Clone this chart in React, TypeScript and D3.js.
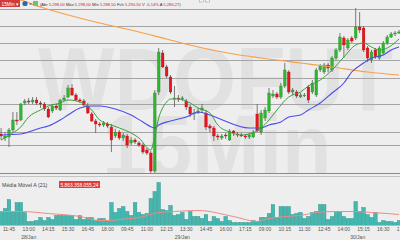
import React from "react";
import * as d3 from "d3";

// ---- Candles (15 min), index 0 = 28/Jan 11:15 ----
const candleOpen = [5238,5236,5236.5,5240,5245,5245,5253.5,5254.5,5254,5255,5253.5,5253,5250.5,5249.5,5252,5250,5255,5256.5,5261,5257.5,5255,5254.5,5252,5248,5244.5,5243,5242.5,5243,5241.5,5237,5239,5236,5237,5233.5,5235,5233.5,5232.5,5230,5228.5,5219.5,5259,5278.5,5271.5,5266.5,5255.5,5256,5255.5,5254.5,5251.5,5248,5248.5,5250,5248.5,5242,5241,5237,5236,5237.5,5235,5239.5,5238,5237.5,5237,5236.5,5236.5,5248,5239,5246,5249.5,5257,5258,5256.5,5262,5269,5259,5259,5256.5,5257,5261.5,5259,5257.5,5270,5269,5272.5,5270,5276,5280,5286,5281,5286,5286,5291.5,5291,5281,5275,5280,5276,5278.5,5283.5,5286.5,5288,5288.5];
const candleHigh = [5241,5239,5241,5249,5249,5253.5,5255.5,5256,5256.5,5256.5,5254.5,5254,5251.5,5253,5253,5255.5,5257.5,5262.5,5263,5258.5,5256,5255.5,5253.5,5249,5245.5,5244,5244.5,5244,5243,5240.5,5240,5238.5,5238,5236.5,5236,5234.5,5233.5,5231,5229.5,5260,5281,5280,5272.5,5267.5,5262,5257.5,5257,5255.5,5252.5,5250.5,5251,5253,5250,5243,5242,5238,5238,5238.5,5240.5,5240,5239,5238.5,5238,5238.5,5240,5253,5250,5251.5,5261,5260,5259,5263.5,5273.5,5270,5261,5260,5258.5,5258.5,5262.5,5265,5271,5273,5273.5,5273.5,5277,5281,5288.5,5287,5286,5287,5301,5299,5292,5282,5280,5281,5282,5284.5,5287.5,5289,5289.5,5290];
const candleLow = [5235,5234.5,5231.5,5239,5242.5,5244.5,5252.5,5253,5253,5252.5,5251,5249.5,5246,5248.5,5250,5249.5,5254.5,5256,5257,5254.5,5253.5,5251.5,5248,5244,5238.5,5241.5,5241.5,5241,5229,5236,5235,5234.5,5231,5232.5,5233,5231.5,5228,5227.5,5218.5,5217.5,5257.5,5271,5266,5258,5251.5,5254,5254.5,5250,5246.5,5245,5248,5248.5,5240,5239,5234.5,5235,5235,5235.5,5234.5,5237,5236.5,5236.5,5235.5,5235.5,5236,5239,5237.5,5244.5,5248.5,5256,5255.5,5255.5,5261,5258,5257.5,5256,5256,5256.5,5253.5,5258,5256.5,5269,5268,5269,5269,5275,5279,5276,5280,5283.5,5285,5288.5,5279,5274,5273.5,5275.5,5275,5277.5,5282.5,5286,5287,5288];
const candleClose = [5237,5237,5240,5245,5244.5,5253,5254.5,5254,5255,5253.5,5253,5250.5,5246.5,5252,5251,5255,5256,5261,5257.5,5255,5254.5,5252.5,5248.5,5244.5,5243,5242.5,5243.5,5242,5235,5239,5236,5237.5,5232.5,5235,5234,5232.5,5229,5228.5,5219.5,5258.5,5279,5271.5,5267,5259,5256,5255.5,5256,5251.5,5248,5248.5,5249.5,5251,5241.5,5241,5237,5236.5,5237,5237,5239.5,5238.5,5237.5,5237,5236.5,5237.5,5239,5239.5,5248.5,5250,5258.5,5258,5256.5,5262,5270,5259,5260,5257,5257.5,5257.5,5255,5263.5,5270,5272,5272.5,5271,5276,5280,5286.5,5282.5,5285,5284.5,5291.5,5290,5280,5276,5279,5276.5,5281,5283.5,5286.5,5288,5288.5,5289];
// financial volume, billions of R$
const volumeBi = [7,8.5,13,7,11.5,11.5,6.5,2,2,2.5,4,2.5,4,3,5,5,5,5,5,3,5,3,4,4,2.5,3.5,3.5,2.5,11.5,6.5,8.5,9.5,7,5,11.5,6.5,5.5,6,13.5,17,21.5,8,7.5,10,5,5.5,6.5,3,7,4.5,4.5,3.5,5.5,2,4.5,3.5,2,4.5,2.5,1.5,1.5,1.5,1.5,1.5,2.5,2,4,4,6,10.5,4,9.5,9.5,9.5,5.5,6,6.5,3.5,4.5,6.5,7,10.5,10.5,3,4.5,6.5,7,4.5,3.5,3.5,12,7,9,5.5,4,6.5,1.5,2.5,2,2,1.5,2.5];

// ---- Moving averages: [candle index, value] ----
const greenMA: [number, number][] = [[0,5235],[3,5238.5],[5,5241.5],[7,5246.5],[10,5250],[12,5252],[15,5253.5],[17,5255],[20,5254],[23,5250],[25,5245],[28,5242.5],[30,5241],[33,5238.5],[35,5236],[38,5230],[39,5237],[40,5246],[41,5251],[42,5254],[43,5255.5],[45,5255.5],[48,5253.5],[50,5251],[53,5248.5],[55,5242.5],[58,5239],[61,5237.5],[63,5238],[66,5241],[68,5245],[70,5250],[73,5256.5],[76,5259],[78,5262],[81,5265],[84,5270],[87,5276.5],[90,5282.5],[92,5283.5],[94,5281.5],[96,5280],[98,5281],[101,5285.5]];
const blueMA: [number, number][] = [[0,5237.5],[5,5238],[10,5241],[12,5242],[15,5245],[17,5247.5],[20,5251],[23,5252],[25,5252],[29,5250.5],[33,5247.5],[36,5244],[39,5241],[40,5242.5],[43,5244.5],[47,5246.5],[50,5249],[53,5247.5],[55,5246],[63,5241],[66,5241],[68,5242.5],[71,5244],[73,5246.5],[76,5247.5],[78,5250],[81,5253.5],[84,5258.5],[87,5263.5],[89,5269],[92,5273.5],[94,5276],[97,5277.5],[99,5280],[101,5281.5]];
const orangeMA: [number, number][] = [[0,5307.5],[5,5305],[10,5301.5],[17,5297.5],[25,5293.5],[34,5289.5],[42,5285.5],[50,5281.5],[59,5278],[66,5276],[76,5273.5],[84,5271.5],[93,5269],[101,5267.5]];
const volumeMA: [number, number][] = [[0,7],[5,7],[12,6],[20,4.5],[25,2.5],[28,2.5],[30,3],[35,4],[40,6.5],[44,7],[50,7.5],[59,4.5],[65,2],[67,3],[72,4.5],[76,5],[80,6.5],[85,7],[89,7],[94,6.5],[98,6],[101,5.5]];

const priceLines = [5300.5, 5292, 5283.5, 5275, 5266, 5253, 5239, 5232.5];

const tickLabels = ["11:45","13:00","14:15","15:30","16:45","18:00","09:45","11:00","12:15","13:30","14:45","16:00","17:15","09:00","10:15","11:30","12:45","14:00","15:15","16:30","17:45"];
const tickIndex = [2,7,12,17,22,27,32,37,42,47,52,57,62,67,72,77,82,87,92,97,102];
const dateLabels = ["28/Jan","29/Jan","30/Jan"];
const dateIndex = [7, 46, 90.5];

const headerParts = [
  ["(Abr ", "5.298,00"], [" Máx ", "5.298,00"], [" Mín ", "5.288,50"], [" Fch ", "5.290,50"], [" V ", "-0,14%"], [" A ", "5.286,27"], [")", ""],
];

const FONT = "'Liberation Sans', Arial, sans-serif";

export default function App() {
  const x = d3.scaleLinear().domain([0, 100]).range([1.1, 395.1]);
  const y = d3.scaleLinear().domain([5305, 5217.5]).range([0, 175]);
  const yv = d3.scaleLinear().domain([0, 22]).range([225.5, 181.5]);
  const priceLine = d3.line<[number, number]>().x(d => x(d[0])).y(d => y(d[1])).curve(d3.curveMonotoneX);
  const volLine = d3.line<[number, number]>().x(d => x(d[0])).y(d => yv(d[1])).curve(d3.curveMonotoneX);
  const idx = d3.range(candleOpen.length);

  return (
    <svg width={400} height={240} style={{ position: "absolute", left: 0, top: 0, display: "block" }} fontFamily={FONT}>
      <defs>
        <clipPath id="pricePane"><rect x={0} y={0} width={400} height={173} /></clipPath>
        <clipPath id="volPane"><rect x={0} y={176} width={400} height={50} /></clipPath>
      </defs>
      <rect x={0} y={0} width={400} height={240} fill="#eeeeee" />
      {/* watermark */}
      <g fill="#e1e1e1" fontWeight="bold" clipPath="url(#pricePane)">
        <g transform="translate(38,110) scale(1,1.1)">
          <text x={0} y={0} fontSize={81}>WDOFUT</text>
        </g>
        <g transform="translate(102,177) scale(1,1.1)">
          <text x={0} y={0} fontSize={81}>15Min</text>
        </g>
      </g>
      {/* price grid */}
      {priceLines.map((p, i) => (
        <line key={i} x1={0} x2={400} y1={Math.round(y(p)) + 0.5} y2={Math.round(y(p)) + 0.5} stroke="#a4a4a4" strokeWidth={1} />
      ))}
      <line x1={0} x2={400} y1={173.5} y2={173.5} stroke="#8a8a8a" strokeWidth={1} />
      <line x1={0} x2={400} y1={176.5} y2={176.5} stroke="#c4c4c4" strokeWidth={1} />
      {/* candles */}
      <g clipPath="url(#pricePane)">
        {idx.map(i => {
          const o = candleOpen[i], c = candleClose[i];
          const up = c >= o;
          const top = y(Math.max(o, c));
          const h = Math.max(1, Math.abs(y(o) - y(c)));
          return (
            <g key={i}>
              <line x1={x(i)} x2={x(i)} y1={y(candleHigh[i])} y2={y(candleLow[i])} stroke="#5a5a5a" strokeWidth={0.8} />
              <rect x={x(i) - 1.35} y={top} width={2.7} height={h} fill={up ? "#2fb52f" : "#e3161d"} stroke={up ? "#23862a" : "#b01015"} strokeWidth={0.3} />
            </g>
          );
        })}
        <path d={priceLine(orangeMA) || ""} fill="none" stroke="#f6a04d" strokeWidth={1.2} />
        <path d={priceLine(blueMA) || ""} fill="none" stroke="#4b4bef" strokeWidth={1.1} />
        <path d={priceLine(greenMA) || ""} fill="none" stroke="#3f9e3f" strokeWidth={1} />
      </g>
      {/* volume */}
      <g clipPath="url(#volPane)">
        {idx.map(i => (
          <rect key={i} x={x(i) - 1.8} y={yv(volumeBi[i])} width={3.6} height={yv(0) - yv(volumeBi[i])} fill="#43b8b0" stroke="#2c918a" strokeWidth={0.4} />
        ))}
        <path d={volLine(volumeMA) || ""} fill="none" stroke="#ee8a86" strokeWidth={1} />
      </g>
      <line x1={0} x2={400} y1={225.5} y2={225.5} stroke="#b8b8b8" strokeWidth={1} />
      <text x={2} y={186.5} fontSize={5.3} fill="#444">Média Móvel A (21)</text>
      <rect x={59} y={181} width={41} height={7} fill="#e23b3b" />
      <text x={79.5} y={186.5} fontSize={4.9} fill="#fff" textAnchor="middle">5.863.358.055,24</text>
      {/* x axis */}
      {tickLabels.map((t, i) => (
        <text key={t + i} x={x(tickIndex[i])} y={230.5} fontSize={5} fill="#555" textAnchor="middle">{t}</text>
      ))}
      {dateLabels.map((t, i) => (
        <text key={t} x={x(dateIndex[i])} y={238.5} fontSize={5} fill="#555" textAnchor="middle">{t}</text>
      ))}
      {/* header */}
      <rect x={0} y={0} width={20} height={7} fill="#d23a3a" />
      <text x={1.5} y={5.5} fontSize={4.8} fill="#fff">15Min ▾</text>
      <circle cx={25} cy={3.5} r={2.6} fill="#2f68b0" />
      <text x={29} y={5.5} fontSize={5} fill="#666">=</text>
      <rect x={33} y={1} width={5} height={5} fill="#6cc46c" />
      <text x={40} y={5.5} fontSize={4.1}>
        {headerParts.map((p, i) => (
          <React.Fragment key={i}>
            <tspan fill="#333">{p[0]}</tspan>
            {p[1] ? <tspan fill="#d21f1f">{p[1]}</tspan> : null}
          </React.Fragment>
        ))}
      </text>
      <rect x={199.5} y={-3} width={4} height={5} fill="#f4f4f4" stroke="#999" strokeWidth={0.5} />
      <rect x={205.5} y={-3} width={4} height={5} fill="#f4f4f4" stroke="#999" strokeWidth={0.5} />
    </svg>
  );
}
